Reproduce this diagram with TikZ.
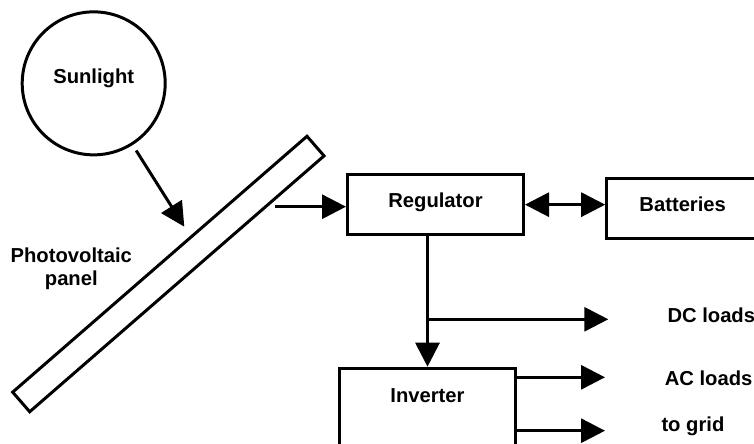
\documentclass[tikz,border=0pt]{standalone}
\usepackage{fontspec}
\setmainfont{Liberation Sans}
\usetikzlibrary{arrows.meta}

\begin{document}
\begin{tikzpicture}[
  x=1cm,
  y=1cm,
  >={Triangle[length=0.48cm, width=0.48cm]},
  line width=1.7pt,
  every node/.style={font=\bfseries\fontsize{11.5}{13}\selectfont},
  pvbox/.style={
    draw,
    inner sep=0pt,
    text height=0.655cm,
    text depth=0.535cm,
  },
  tag/.style={inner sep=0pt, anchor=base west},
  flow/.style={->},
  biflow/.style={<->},
]
\path[use as bounding box, clip] (0,0) rectangle (15.08,-8.86);

% source and panel
\node[draw, circle, minimum size=2.86cm, inner sep=0pt, text height=0.25cm, text depth=0.25cm] (sun) at (1.874,-1.667) {Sunlight};
\node[draw, rectangle, minimum width=7.8cm, minimum height=0.52cm, rotate=41] (panel) at (3.367,-5.48) {};
\node[align=center, inner sep=0pt, anchor=base] (pvlabel) at (1.426,-5.706) {Photovoltaic\\panel};

% blocks
\node[pvbox, minimum width=3.52cm] (reg) at (8.71,-4.093) {Regulator};
\node[pvbox, minimum width=3.04cm] (bat) at (13.654,-4.166) {Batteries};
\node[pvbox, minimum width=3.51cm, text height=0.69cm, text depth=1.0cm] (inv) at (8.55,-8.209) {Inverter};

% outputs
\node[tag] (dc) at (13.32,-6.454) {DC loads};
\node[tag] (ac) at (13.266,-7.70) {AC loads};
\node[tag] (grid) at (13.20,-8.63) {to grid};

\coordinate (sunhit) at (3.686,-4.534);
\coordinate (panelout) at (5.5,-4.134);
\coordinate (dcjoin) at (8.55,-6.386);
\coordinate (dcend) at (12.166,-6.386);
\coordinate (acend) at (12.1,-7.546);
\coordinate (gridend) at (12.1,-8.614);

\draw[flow, shorten <=0.13cm] (sun) -- (sunhit);
\draw[flow] (panelout) -- (panelout -| reg.west);
\draw[biflow] (reg.east) -- (reg.east -| bat.west);
\draw[flow] (reg.south -| inv.north) -- (inv.north);
\draw[flow] (dcjoin) -- (dcend);
\draw[flow] (inv.east |- acend) -- (acend);
\draw[flow] (inv.east |- gridend) -- (gridend);
\end{tikzpicture}
\end{document}
